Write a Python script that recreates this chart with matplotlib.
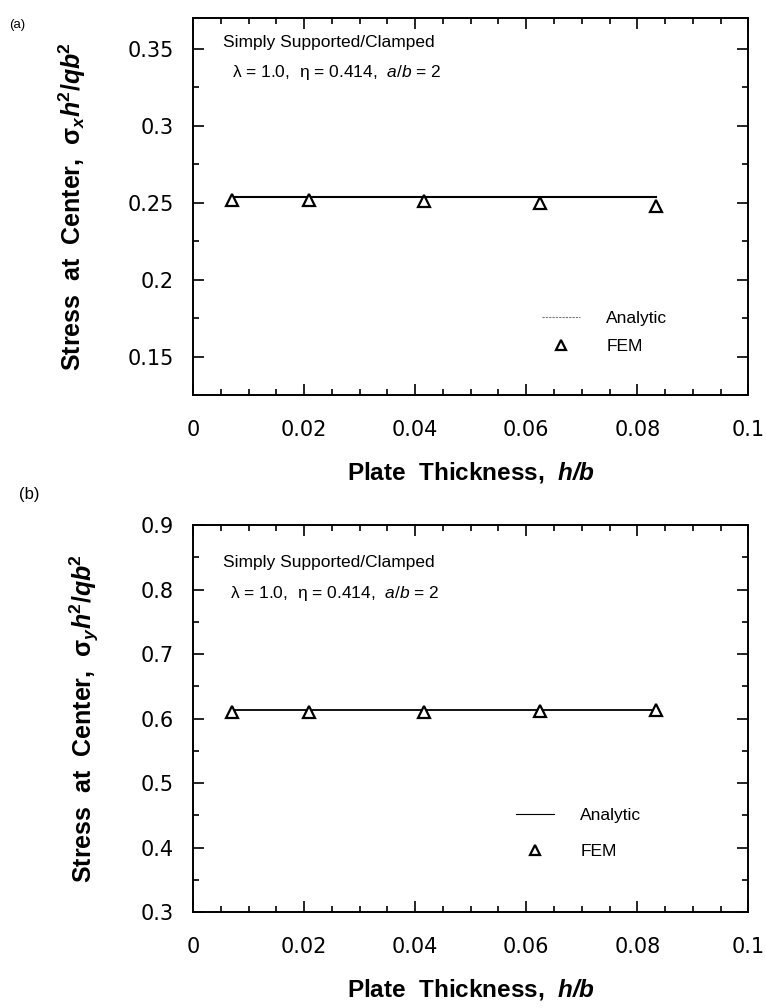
import matplotlib.pyplot as plt
from matplotlib.ticker import MultipleLocator, FormatStrFormatter

plt.rcParams['font.family'] = ['Liberation Sans', 'DejaVu Sans']
plt.rcParams['mathtext.fontset'] = 'custom'
plt.rcParams['mathtext.rm'] = 'Liberation Sans'
plt.rcParams['mathtext.it'] = 'Liberation Sans:italic'
plt.rcParams['mathtext.bf'] = 'Liberation Sans:bold'
plt.rcParams['mathtext.bfit'] = 'Liberation Sans:italic:bold'

# plate thickness ratios h/b
h_b = [1 / 144, 1 / 48, 1 / 24, 1 / 16, 1 / 12]

# (a) sigma_x
sx_analytic = [0.254, 0.254, 0.254, 0.254, 0.254]
sx_fem = [0.252, 0.252, 0.251, 0.250, 0.248]

# (b) sigma_y
sy_analytic = [0.614, 0.614, 0.614, 0.614, 0.614]
sy_fem = [0.611, 0.611, 0.610, 0.612, 0.614]

fig = plt.figure(figsize=(7.66, 10.08), dpi=100)
ax1 = fig.add_axes([0.252, 0.608, 0.725, 0.374])
ax2 = fig.add_axes([0.252, 0.095, 0.725, 0.384])

params_txt = u'\u03bb = 1.0,  \u03b7 = 0.414,  $a/b$ = 2'


def style_axes(ax, ymaj, ymin):
    ax.set_xlim(0, 0.1)
    ax.xaxis.set_major_locator(MultipleLocator(0.02))
    ax.xaxis.set_minor_locator(MultipleLocator(0.005))
    ax.yaxis.set_major_locator(MultipleLocator(ymaj))
    ax.yaxis.set_minor_locator(MultipleLocator(ymin))
    ax.xaxis.set_major_formatter(FormatStrFormatter('%g'))
    ax.yaxis.set_major_formatter(FormatStrFormatter('%g'))
    ax.tick_params(which='both', direction='in', top=True, right=True, width=1.2)
    ax.tick_params(which='major', length=8, pad=14)
    ax.tick_params(which='minor', length=4)
    ax.tick_params(axis='x', which='major', pad=18)
    for lab in ax.get_xticklabels() + ax.get_yticklabels():
        lab.set_fontfamily('DejaVu Sans')
        lab.set_fontsize(15)
    for sp in ax.spines.values():
        sp.set_linewidth(1.4)
    ax.set_xlabel(r'Plate  Thickness,  $\mathbfit{h/b}$', fontsize=17.5,
                  fontweight='bold', labelpad=14)


def add_legend(ax, x, y, spacing):
    leg = ax.legend(loc='center left', bbox_to_anchor=(x, y), frameon=False,
                    fontsize=12.5, handlelength=2.2, handletextpad=1.5,
                    labelspacing=spacing, borderpad=0, markerscale=0.75)
    return leg


# panel (a)
ax1.set_ylim(0.125, 0.37)
ax1.plot(h_b, sx_analytic, color='black', lw=1.5, label='Analytic')
ax1.plot(h_b, sx_fem, ls='none', marker='^', ms=9, mfc='white', mec='black',
         mew=1.6, label='FEM')
style_axes(ax1, 0.05, 0.025)
ax1.set_ylabel(r'Stress  at  Center,  $\mathbf{\sigma}_{\mathbfit{x}}\mathbfit{h}^{\mathbf{2}}\mathbf{/}\mathbfit{qb}^{\mathbf{2}}$',
               fontsize=18, fontweight='bold', labelpad=28)
ax1.text(0.054, 0.936, 'Simply Supported/Clamped', transform=ax1.transAxes,
         fontsize=12.5, va='center')
ax1.text(0.07, 0.857, params_txt, transform=ax1.transAxes, fontsize=12.5,
         va='center')
leg1 = add_legend(ax1, 0.613, 0.167, 0.75)
leg1.get_lines()[0].set_linestyle((0, (2, 1)))
leg1.get_lines()[0].set_linewidth(0.8)
leg1.get_lines()[0].set_color('#777777')

# panel (b)
ax2.set_ylim(0.3, 0.9)
ax2.plot(h_b, sy_analytic, color='black', lw=1.3, label='Analytic')
ax2.plot(h_b, sy_fem, ls='none', marker='^', ms=9, mfc='white', mec='black',
         mew=1.6, label='FEM')
style_axes(ax2, 0.1, 0.05)
ax2.set_ylabel(r'Stress  at  Center,  $\mathbf{\sigma}_{\mathbfit{y}}\mathbfit{h}^{\mathbf{2}}\mathbf{/}\mathbfit{qb}^{\mathbf{2}}$',
               fontsize=18, fontweight='bold', labelpad=28)
ax2.text(0.054, 0.904, 'Simply Supported/Clamped', transform=ax2.transAxes,
         fontsize=12.5, va='center')
ax2.text(0.067, 0.824, params_txt, transform=ax2.transAxes, fontsize=12.5,
         va='center')
leg2 = add_legend(ax2, 0.566, 0.204, 1.2)
leg2.get_lines()[0].set_linewidth(0.8)

fig.text(0.012, 0.972, '(a)', fontsize=9.5)
fig.text(0.025, 0.505, '(b)', fontsize=12)

fig.savefig('out.png', dpi=100)
